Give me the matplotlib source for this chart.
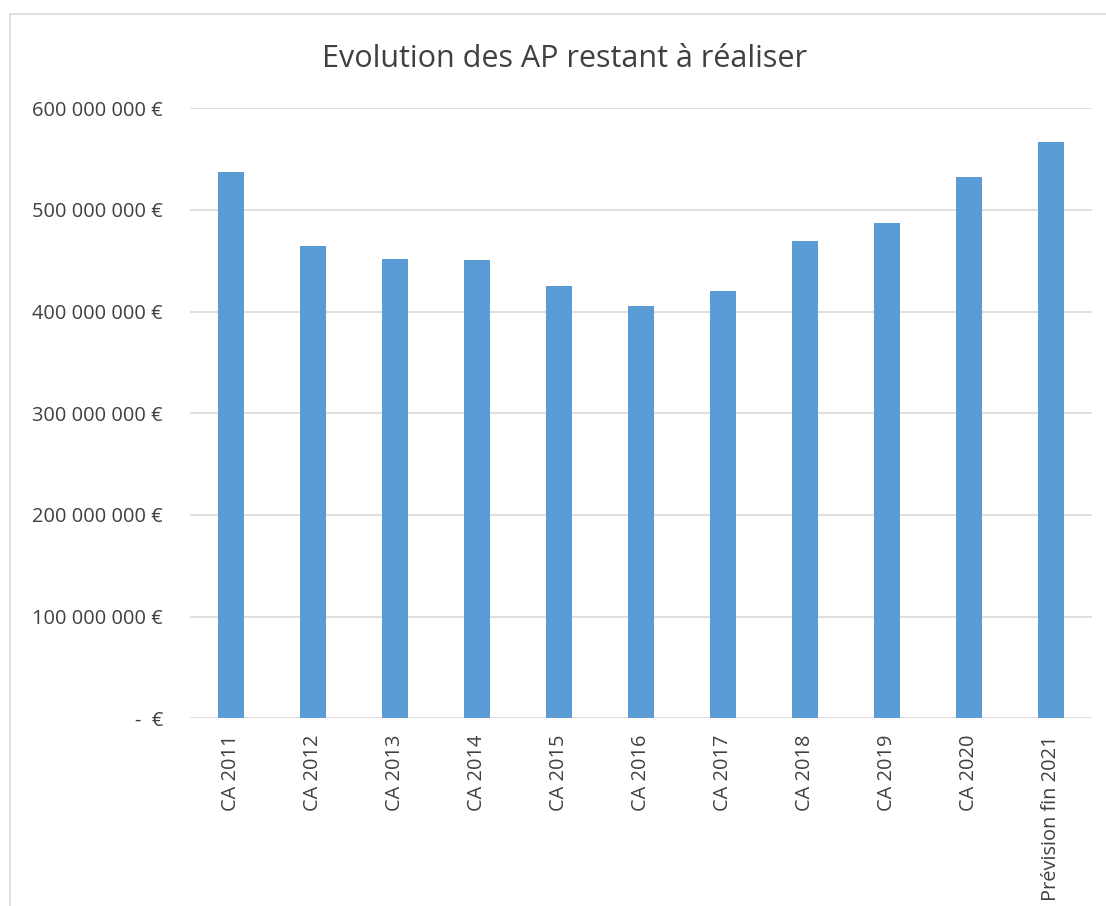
import matplotlib
matplotlib.use("Agg")
import matplotlib.pyplot as plt
from matplotlib.lines import Line2D
from matplotlib.ticker import FuncFormatter

categories = ["CA 2011", "CA 2012", "CA 2013", "CA 2014", "CA 2015", "CA 2016",
              "CA 2017", "CA 2018", "CA 2019", "CA 2020", "Prévision fin 2021"]
values = [537.6e6, 464.8e6, 451.4e6, 450.8e6, 425.2e6, 405.5e6,
          420.3e6, 469.8e6, 486.9e6, 532.1e6, 566.8e6]
yticks = [0, 100e6, 200e6, 300e6, 400e6, 500e6, 600e6]
title = "Evolution des AP restant à réaliser"

plt.rcParams['font.family'] = ['Open Sans', 'DejaVu Sans']

W, H = 1106, 906
fig = plt.figure(figsize=(W / 100, H / 100), dpi=100)
ax = fig.add_axes([190 / W, 1 - 718.3 / H, (1092 - 190) / W, (718.3 - 108.3) / H])

x = range(len(categories))
ax.bar(x, values, width=0.31, color="#5B9BD5", zorder=3)
ax.set_xlim(-0.5, len(categories) - 0.5)
ax.set_ylim(0, 600e6)
ax.set_yticks(yticks)


def fmt(v, pos):
    if v == 0:
        return "-  €"
    s = f"{int(round(v)):,}".replace(",", " ")
    return s + " €"


ax.yaxis.set_major_formatter(FuncFormatter(fmt))
ax.set_xticks(list(x))
ax.set_xticklabels(categories, rotation=90, va="top", ha="center")
ax.grid(axis="y", color="#D9D9D9", linewidth=1.2, zorder=0)
for s in ax.spines.values():
    s.set_visible(False)
ax.tick_params(axis="both", length=0, labelsize=14.4, labelcolor="#404040")
ax.tick_params(axis="y", pad=19.5)
ax.tick_params(axis="x", pad=12)

fig.text(564 / W, 1 - 67 / H, title, ha="center", va="baseline",
         fontsize=22, color="#404040")

# chart border
fig.add_artist(Line2D([10.3 / W, 10.3 / W], [0, 1 - 14 / H], color="#D9D9D9",
                      linewidth=1.2, transform=fig.transFigure))
fig.add_artist(Line2D([10.3 / W, 1], [1 - 14 / H, 1 - 14 / H], color="#D9D9D9",
                      linewidth=1.2, transform=fig.transFigure))

fig.savefig("out.png", dpi=100)
